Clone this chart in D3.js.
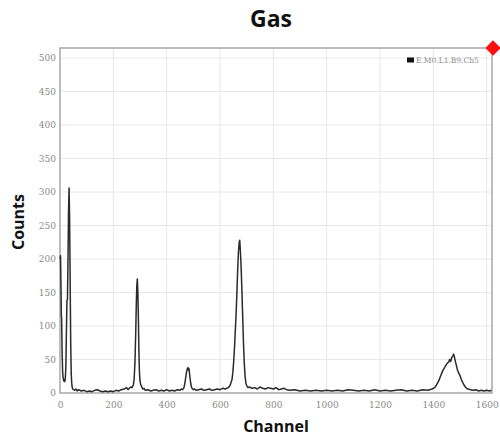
<!DOCTYPE html>
<html>
<head>
<meta charset="utf-8">
<script src="https://cdn.jsdelivr.net/npm/d3@7"></script>
<style>
  html, body { margin: 0; padding: 0; background: #fff; }
  svg { display: block; }
</style>
</head>
<body>
<script>
// Spectrum counts per channel
const channels = [
  0, 2, 4, 5, 6, 8, 10, 12, 14, 16, 18, 20, 22, 24, 26, 28, 30, 32, 34, 36, 38, 40, 42, 44, 46, 48, 50,
  55, 60, 65, 70, 80, 90, 100, 110, 120, 130, 140, 150, 160, 170, 180, 190, 200, 210, 220, 230, 240, 250, 255, 260, 265, 270,
  275, 278, 281, 284, 286, 288, 290, 292, 294, 296, 298, 300, 303, 306, 310, 315, 320, 330, 340, 350, 360, 370, 380, 390,
  400, 410, 420, 430, 440, 450, 455, 460, 465, 468, 471, 474, 477, 480, 482, 484, 486, 489, 492, 495, 500, 505, 510,
  520, 530, 540, 550, 560, 570, 580, 590, 600, 610, 620, 630, 636, 640, 645, 648, 651, 654, 657, 660, 663, 666, 669,
  672, 674, 676, 679, 682, 685, 688, 691, 694, 697, 700, 705, 710, 720, 730, 740, 750, 760, 770, 780, 790, 800, 810,
  820, 830, 840, 850, 860, 880, 900, 920, 940, 960, 980, 1000, 1020, 1040, 1060, 1080, 1100, 1120, 1140, 1160, 1180,
  1200, 1220, 1240, 1260, 1280, 1300, 1320, 1340, 1360, 1380, 1395, 1405, 1412, 1420, 1428, 1435, 1442, 1448, 1453,
  1457, 1461, 1465, 1469, 1473, 1476, 1479, 1482, 1486, 1490, 1495, 1500, 1505, 1510, 1515, 1520, 1525, 1530, 1540,
  1550, 1560, 1570, 1580, 1590, 1600, 1610, 1618
];
const counts = [
  200, 205, 150, 115, 112, 60, 30, 22, 18, 20, 17, 22, 40, 90, 138, 140, 200, 270, 306, 260, 170, 80, 30, 14, 8, 6, 5,
  4, 6, 3, 5, 3, 4, 2, 3, 2, 4, 5, 3, 2, 3, 2, 3, 2, 4, 3, 5, 6, 8, 5, 7, 9, 8,
  12, 20, 45, 90, 130, 160, 170, 150, 110, 60, 30, 18, 12, 10, 6, 7, 4, 5, 3, 4, 5, 3, 4, 3,
  5, 3, 4, 3, 5, 4, 6, 5, 8, 14, 22, 30, 36, 38, 34, 36, 28, 18, 10, 7, 5, 6, 4,
  5, 6, 4, 5, 6, 4, 5, 6, 5, 7, 6, 8, 10, 14, 20, 30, 45, 65, 90, 115, 145, 180, 210,
  225, 228, 215, 190, 155, 115, 75, 45, 25, 15, 11, 8, 9, 7, 8, 6, 9, 7, 6, 8, 7, 6, 8,
  5, 6, 7, 5, 4, 5, 3, 4, 3, 4, 3, 4, 3, 4, 3, 5, 4, 3, 4, 3, 5,
  3, 4, 3, 4, 5, 3, 4, 3, 5, 4, 6, 8, 12, 18, 26, 33, 38, 42, 45,
  46, 50, 47, 53, 55, 58, 54, 48, 42, 35, 30, 26, 20, 16, 12, 9, 7, 6, 5,
  4, 5, 3, 4, 3, 4, 3, 4
];
const xTicks = [0, 200, 400, 600, 800, 1000, 1200, 1400, 1600];
const yTicks = [0, 50, 100, 150, 200, 250, 300, 350, 400, 450, 500];
const seriesName = "E.M0.L1.B9.Ch5";

const W = 500, H = 437;
const plot = { left: 60, right: 492, top: 48, bottom: 393 };

const svg = d3.select("body").append("svg")
  .attr("width", W).attr("height", H);

const x = d3.scaleLinear().domain([0, 1620]).range([plot.left, plot.right]);
const y = d3.scaleLinear().domain([0, 515]).range([plot.bottom, plot.top]);

// Grid
const grid = svg.append("g");
grid.selectAll(".gx").data(xTicks.filter(d => d > 0)).join("line")
  .attr("x1", d => x(d)).attr("x2", d => x(d))
  .attr("y1", plot.top).attr("y2", plot.bottom)
  .attr("stroke", "#e8e8e8").attr("stroke-width", 1);
grid.selectAll(".gy").data(yTicks.filter(d => d > 0)).join("line")
  .attr("x1", plot.left).attr("x2", plot.right)
  .attr("y1", d => y(d)).attr("y2", d => y(d))
  .attr("stroke", "#e8e8e8").attr("stroke-width", 1);

// Axes (labels only, frame drawn separately)
const xAxis = svg.append("g")
  .attr("transform", `translate(0,${plot.bottom})`)
  .call(d3.axisBottom(x).tickValues(xTicks).tickFormat(d3.format("d")).tickSize(0).tickPadding(9));
const yAxis = svg.append("g")
  .attr("transform", `translate(${plot.left},0)`)
  .call(d3.axisLeft(y).tickValues(yTicks).tickFormat(d3.format("d")).tickSize(0).tickPadding(4));
[xAxis, yAxis].forEach(a => {
  a.select(".domain").remove();
  a.selectAll("text")
    .attr("fill", "#8a8a8a")
    .style("font-family", "'DejaVu Serif', 'Liberation Serif', serif")
    .style("font-size", "9px");
});

// Frame
svg.append("rect")
  .attr("x", plot.left).attr("y", plot.top)
  .attr("width", plot.right - plot.left).attr("height", plot.bottom - plot.top)
  .attr("fill", "none").attr("stroke", "#a8a8a8").attr("stroke-width", 1.5);

// Spectrum line
const pts = channels.map((c, i) => [c, counts[i]]);
svg.append("path")
  .datum(pts)
  .attr("fill", "none")
  .attr("stroke", "#2a2a2a")
  .attr("stroke-width", 1.5)
  .attr("stroke-linejoin", "round")
  .attr("d", d3.line().x(d => x(d[0])).y(d => y(d[1])));

// Legend
const lg = svg.append("g");
lg.append("rect").attr("x", 407).attr("y", 57.5).attr("width", 7).attr("height", 5).attr("fill", "#111");
lg.append("text").attr("x", 416).attr("y", 63)
  .attr("fill", "#8a8a8a")
  .style("font-family", "'DejaVu Serif', 'Liberation Serif', serif")
  .style("font-size", "7.5px")
  .text(seriesName);

// Corner marker
svg.append("path")
  .attr("d", d3.symbol().type(d3.symbolDiamond2).size(150)())
  .attr("transform", `translate(${plot.right + 1},${plot.top})`)
  .attr("fill", "#ff1010");

// Titles
svg.append("text").attr("x", 271).attr("y", 27).attr("text-anchor", "middle")
  .style("font-family", "'Open Sans', sans-serif").style("font-weight", "bold").style("font-size", "23px")
  .attr("fill", "#111").text("Gas");
svg.append("text").attr("x", 276).attr("y", 432).attr("text-anchor", "middle")
  .style("font-family", "'Open Sans', sans-serif").style("font-weight", "bold").style("font-size", "16px")
  .attr("fill", "#111").text("Channel");
svg.append("text").attr("transform", "translate(24,222) rotate(-90)").attr("text-anchor", "middle")
  .style("font-family", "'Open Sans', sans-serif").style("font-weight", "bold").style("font-size", "16px")
  .attr("fill", "#111").text("Counts");
</script>
</body>
</html>
